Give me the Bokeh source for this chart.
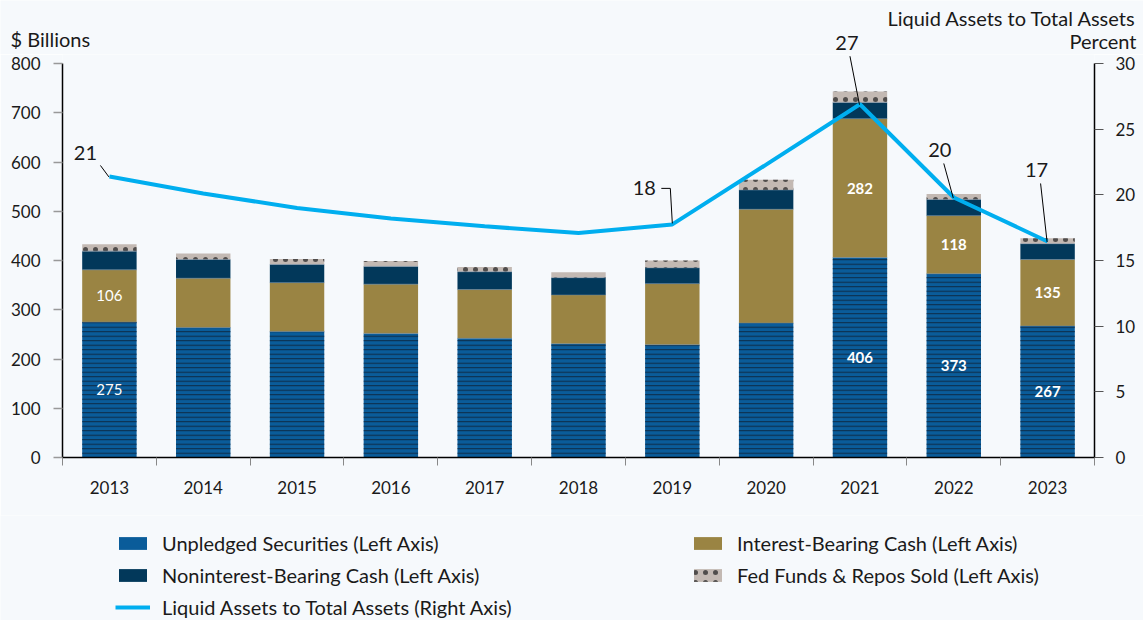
from bokeh.plotting import figure
from bokeh.models import Range1d, LinearAxis, FixedTicker, Label, Legend, LegendItem
from bokeh.layouts import column
from bokeh.embed import file_html
from bokeh.resources import INLINE
import numpy as np

# ---------------- data ----------------
years = ["2013", "2014", "2015", "2016", "2017", "2018", "2019", "2020", "2021", "2022", "2023"]
unpledged = [275, 264, 256, 252, 242, 231, 229, 273, 406, 373, 267]
interest_bearing = [106, 100, 99, 100, 99, 99, 124, 231, 282, 118, 135]
noninterest = [38, 38, 37, 36, 36, 35, 32, 39, 33, 33, 32]
fed_funds = [14, 12, 11, 11, 10, 11, 15, 21, 22, 11, 11]
liquid_ratio = [21.4, 20.1, 19.0, 18.2, 17.6, 17.1, 17.75, 22.3, 26.9, 19.8, 16.45]
left_ticks = [0, 100, 200, 300, 400, 500, 600, 700, 800]
right_ticks = [0, 5, 10, 15, 20, 25, 30]
unpledged_labels = {0: "275", 8: "406", 9: "373", 10: "267"}
ib_labels = {0: "106", 8: "282", 9: "118", 10: "135"}
ratio_labels = {0: "21", 6: "18", 8: "27", 9: "20", 10: "17"}

# ---------------- styles ----------------
FONT = "Lato"
BG = "#f6f9fc"
C_UNP = "#0a5c9a"
C_UNP_HATCH = "#0d2a44"
C_IB = "#9a8443"
C_NIB = "#02385a"
C_FED = "#c3b9b3"
C_LINE = "#00aeef"
TXT = "#1a1a1a"
TEXT_SIZE = "20px"
TICK_SIZE = "17px"
FED_HATCH = dict(hatch_pattern=".", hatch_color="#2a2a2a", hatch_scale=10, hatch_weight=0.4, hatch_alpha=0.75)

n = len(years)
xs = [float(i) for i in range(n)]
xs_np = np.array(xs)
unp = np.array(unpledged, dtype=float)
ib = np.array(interest_bearing, dtype=float)
nib = np.array(noninterest, dtype=float)
fed = np.array(fed_funds, dtype=float)
b0 = np.zeros(n)
b1 = b0 + unp
b2 = b1 + ib
b3 = b2 + nib
b4 = b3 + fed

# ---------------- geometry ----------------
W = 1143
TH = 54          # top strip (titles)
MH = 515 - TH    # main chart
LH = 620 - TH - MH  # legend strip
LB, RB, BB = 62, 49, 58
AXIS_PX = 394.0  # pixel length of the 0..800 / 0..30 axes
frame_w = W - LB - RB
frame_h = MH - BB
px_x = frame_w / n
px_l = AXIS_PX / 800.0
px_r = AXIS_PX / 30.0
Y0 = TH + frame_h  # page y of value 0

# ---------------- main figure ----------------
p = figure(width=W, height=MH, output_backend="svg", toolbar_location=None,
           x_range=Range1d(-0.5, n - 0.5), y_range=Range1d(0, frame_h / px_l),
           min_border_left=LB, min_border_right=RB, min_border_top=0, min_border_bottom=BB,
           background_fill_color=BG, border_fill_color=BG, outline_line_color=None,
           frame_align=False)
p.extra_y_ranges = {"pct": Range1d(0, frame_h / px_r)}
p.xgrid.visible = False
p.ygrid.visible = False

bw = 0.58
p.vbar(x=xs, width=bw, bottom=b0, top=b1, fill_color=C_UNP, line_color=None,
       hatch_pattern="-", hatch_color=C_UNP_HATCH, hatch_scale=4.5, hatch_weight=1.0)
p.vbar(x=xs, width=bw, bottom=b1, top=b2, fill_color=C_IB, line_color=None)
p.vbar(x=xs, width=bw, bottom=b2, top=b3, fill_color=C_NIB, line_color=None)
p.vbar(x=xs, width=bw, bottom=b3, top=b4, fill_color=C_FED, line_color=None, **FED_HATCH)
for bb in (b1, b2, b3):
    p.segment(x0=xs_np - bw / 2, x1=xs_np + bw / 2, y0=bb, y1=bb,
              line_color="#6d8aa3", line_width=1, line_alpha=0.5)

p.line(x=xs, y=liquid_ratio, y_range_name="pct", line_color=C_LINE, line_width=4)

for labels, lo, hi in ((unpledged_labels, b0, b1), (ib_labels, b1, b2)):
    for i, t in labels.items():
        p.add_layout(Label(x=xs[i], y=float((lo[i] + hi[i]) / 2), text=t, text_align="center",
                           text_baseline="middle", text_color="white", text_font_size="15px",
                           text_font=FONT, text_font_style="normal" if i == 0 else "bold"))

# ratio annotations (pixel offsets from the data point)
label_off = {0: (-24, 23), 6: (-28, 36), 8: (-13, 61), 9: (-14, 47), 10: (-11, 71)}
leader_start = {0: (-9, 11), 6: (-2, 36), 8: (-10, 48), 9: (-10, 34), 10: (-7, 58)}
for i, t in ratio_labels.items():
    dx, dy = label_off[i]
    if i != 8:
        p.add_layout(Label(x=xs[i], y=liquid_ratio[i], y_range_name="pct", x_offset=dx, y_offset=dy,
                           text=t, text_align="center", text_baseline="middle", text_color=TXT,
                           text_font_size=TEXT_SIZE, text_font=FONT))
    sx, sy = leader_start[i]
    x0 = xs[i] + sx / px_x
    y0 = liquid_ratio[i] + sy / px_r
    if i == 6:
        p.line(x=[xs[i] - 11 / px_x, x0, xs[i]], y=[y0, y0, liquid_ratio[i] + 1 / px_r],
               y_range_name="pct", line_color="black", line_width=1)
    else:
        p.segment(x0=[x0], y0=[y0], x1=[xs[i] - 0.5 / px_x], y1=[liquid_ratio[i] - 0.5 / px_r],
                  y_range_name="pct", line_color="black", line_width=1)

# axes
xa = p.xaxis[0]
xa.ticker = FixedTicker(ticks=xs, minor_ticks=[i - 0.5 for i in range(n + 1)])
xa.major_label_overrides = {i: y for i, y in enumerate(years)}
xa.major_tick_out = 0
xa.major_tick_in = 0
xa.minor_tick_out = 8
xa.minor_tick_in = 0
xa.minor_tick_line_color = "#888888"
xa.axis_line_color = "black"
xa.axis_line_width = 1.5
xa.major_label_standoff = 15
xa.major_label_text_font = FONT
xa.major_label_text_font_size = TICK_SIZE
xa.major_label_text_color = TXT

ya = p.yaxis[0]
ya.ticker = FixedTicker(ticks=left_ticks)
ya.bounds = (0, 800)
ya.minor_tick_line_color = None
ya.major_tick_out = 9
ya.major_tick_in = 0
ya.major_tick_line_color = "#999999"
ya.major_tick_line_width = 1.5
ya.axis_line_color = "black"
ya.axis_line_width = 1.5
ya.major_label_standoff = 13
ya.major_label_text_font = FONT
ya.major_label_text_font_size = TICK_SIZE
ya.major_label_text_color = TXT

ra = LinearAxis(y_range_name="pct", ticker=FixedTicker(ticks=right_ticks), bounds=(0, 30))
ra.minor_tick_line_color = None
ra.major_tick_out = 9
ra.major_tick_in = 0
ra.major_tick_line_color = "#555555"
ra.major_tick_line_width = 1.2
ra.axis_line_color = "black"
ra.axis_line_width = 1.5
ra.major_label_standoff = 12
ra.major_label_text_font = FONT
ra.major_label_text_font_size = TICK_SIZE
ra.major_label_text_color = TXT
p.add_layout(ra, "right")

# ---------------- top strip (axis titles, top annotation) ----------------
top = figure(width=W, height=TH, output_backend="svg", toolbar_location=None,
             x_axis_type=None, y_axis_type=None,
             x_range=Range1d(-0.5 - LB / px_x, n - 0.5 + RB / px_x),
             y_range=Range1d((Y0 - TH) / px_r, Y0 / px_r),
             min_border=0, background_fill_color=BG, border_fill_color=BG, outline_line_color=None,
             frame_align=False)
top.xgrid.visible = False
top.ygrid.visible = False
x_left = -0.5 - LB / px_x
x_right = n - 0.5 + RB / px_x
top.add_layout(Label(x=x_left, y=Y0 / px_r, x_offset=10, y_offset=-38, text="$ Billions",
                     text_align="left", text_baseline="middle",
                     text_font=FONT, text_font_size=TEXT_SIZE, text_color=TXT))
top.add_layout(Label(x=x_right, y=Y0 / px_r, x_offset=-7, y_offset=-17, text="Liquid Assets to Total Assets",
                     text_align="right", text_baseline="middle",
                     text_font=FONT, text_font_size=TEXT_SIZE, text_color=TXT))
top.add_layout(Label(x=x_right, y=Y0 / px_r, x_offset=-7, y_offset=-40, text="Percent",
                     text_align="right", text_baseline="middle",
                     text_font=FONT, text_font_size=TEXT_SIZE, text_color=TXT))
dx, dy = label_off[8]
top.add_layout(Label(x=xs[8], y=liquid_ratio[8], x_offset=dx, y_offset=dy, text=ratio_labels[8],
                     text_align="center", text_baseline="middle", text_color=TXT,
                     text_font_size=TEXT_SIZE, text_font=FONT))

# ---------------- legend strip ----------------
lg = figure(width=W, height=LH, output_backend="svg", toolbar_location=None,
            x_axis_type=None, y_axis_type=None, x_range=Range1d(0, 1), y_range=Range1d(0, 1),
            min_border=0, background_fill_color=BG, border_fill_color=BG, outline_line_color=None,
            frame_align=False)
lg.xgrid.visible = False
lg.ygrid.visible = False
# swatch renderers (placed outside the visible range; only their legend swatches show)
r_unp = lg.rect(x=[-5], y=[-5], width=1, height=1, fill_color=C_UNP, line_color=None)
r_ib = lg.rect(x=[-5], y=[-5], width=1, height=1, fill_color=C_IB, line_color=None)
r_nib = lg.rect(x=[-5], y=[-5], width=1, height=1, fill_color=C_NIB, line_color=None)
r_fed = lg.rect(x=[-5], y=[-5], width=1, height=1, fill_color=C_FED, line_color=None, **FED_HATCH)
r_line = lg.line(x=[-5, -4], y=[-5, -5], line_color=C_LINE, line_width=4)

ITEM_H = 24
SPACING = 8
def mk_legend(items, x, top_y):
    h = len(items) * ITEM_H + (len(items) - 1) * SPACING
    return Legend(items=items, location=(x, LH - top_y - h), orientation="vertical",
                  background_fill_alpha=0, border_line_color=None, padding=0, margin=0,
                  spacing=SPACING, glyph_width=35, glyph_height=16, label_standoff=12, label_height=20,
                  label_text_font=FONT, label_text_font_size=TEXT_SIZE, label_text_color=TXT)

leg1 = mk_legend([LegendItem(label="Unpledged Securities (Left Axis)", renderers=[r_unp]),
                  LegendItem(label="Noninterest-Bearing Cash (Left Axis)", renderers=[r_nib]),
                  LegendItem(label="Liquid Assets to Total Assets (Right Axis)", renderers=[r_line])],
                 115, 16)
leg2 = mk_legend([LegendItem(label="Interest-Bearing Cash (Left Axis)", renderers=[r_ib]),
                  LegendItem(label="Fed Funds & Repos Sold (Left Axis)", renderers=[r_fed])],
                 690, 16)
lg.add_layout(leg1, "center")
lg.add_layout(leg2, "center")

layout = column(top, p, lg, spacing=0)
open("out.html", "w").write(file_html(layout, INLINE))
